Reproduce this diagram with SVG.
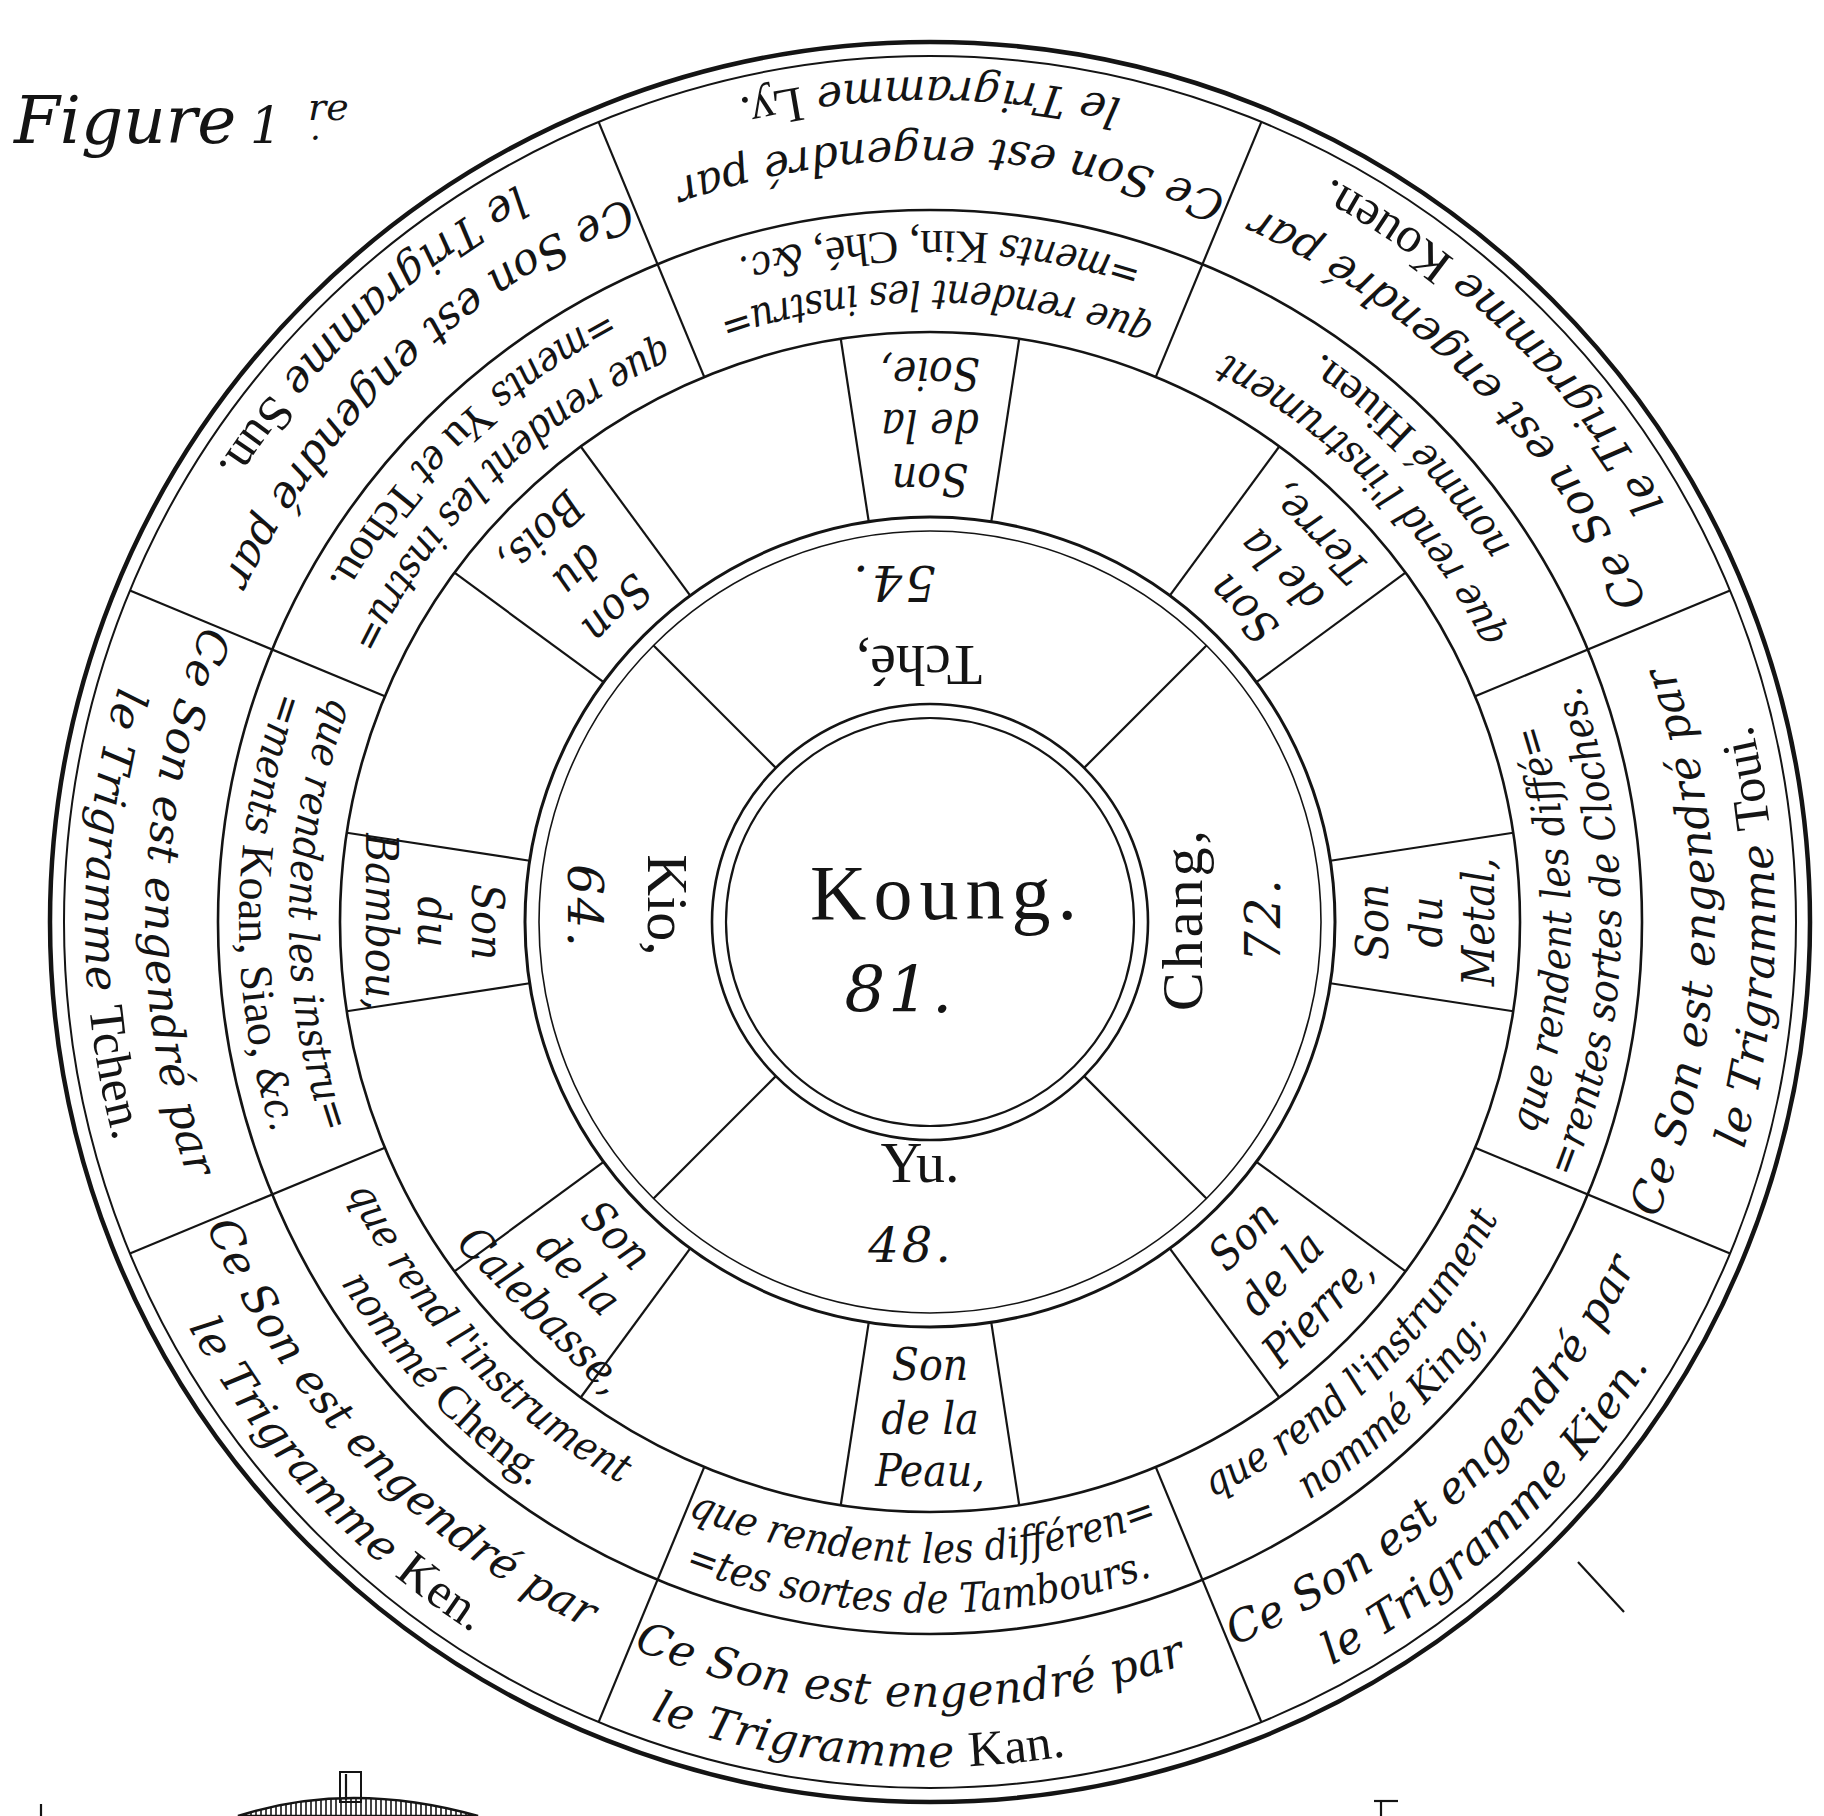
<svg xmlns="http://www.w3.org/2000/svg" width="1824" height="1816" viewBox="0 0 1824 1816">
<style>
.c{fill:none;stroke:#141414}
.d{stroke:#141414;stroke-width:2.2;fill:none}
text{fill:#141414;font-family:"Liberation Serif",serif}
.rm{font-family:"Liberation Serif",serif;font-style:normal}
.o{font-family:"DejaVu Serif",serif;font-style:italic;font-size:44px;letter-spacing:0.5px;text-anchor:middle}
.o .rm{font-size:50px}
.k{font-family:"DejaVu Serif Condensed","DejaVu Serif",serif;font-stretch:semi-condensed;font-style:italic;font-size:41px;text-anchor:middle}
.k .rm{font-size:46px}
.s{font-family:"DejaVu Serif Condensed","DejaVu Serif",serif;font-stretch:semi-condensed;font-style:italic;font-size:44px;text-anchor:middle}
.n{font-size:58px;text-anchor:middle}
.m{font-family:"DejaVu Serif",serif;font-style:italic;font-size:48px;letter-spacing:3px;text-anchor:middle}
.t{font-family:"DejaVu Serif",serif;font-style:italic}
</style>
<defs>
<path id="o1" d="M425.4,1523.3 A785,785 0 0 0 1434.6,1523.3"/>
<path id="o2" d="M386.8,1569.3 A845,845 0 0 0 1473.2,1569.3"/>
<path id="k1" d="M518,1413 A641,641 0 0 0 1342,1413"/>
<path id="k2" d="M485.8,1451.3 A691,691 0 0 0 1374.2,1451.3"/>
<pattern id="hatch" width="5" height="10" patternUnits="userSpaceOnUse"><line x1="1" y1="0" x2="1" y2="10" stroke="#141414" stroke-width="1.6"/></pattern>
</defs>
<rect width="1824" height="1816" fill="#fff"/>

<g id="title">
<text class="t" font-size="66" x="14" y="143">Figure <tspan x="250" font-size="50">1</tspan><tspan x="310" y="140" font-size="34">.</tspan><tspan x="308" y="120" font-size="38">re</tspan></text>
</g>

<g id="rings">
<circle class="c" cx="930" cy="922" r="880" stroke-width="4.5"/>
<circle class="c" cx="930" cy="922" r="866" stroke-width="2"/>
<circle class="c" cx="930" cy="922" r="712" stroke-width="2.6"/>
<circle class="c" cx="930" cy="922" r="590" stroke-width="2.6"/>
<circle class="c" cx="930" cy="922" r="405" stroke-width="3"/>
<circle class="c" cx="930" cy="922" r="391" stroke-width="1.6"/>
<circle class="c" cx="930" cy="922" r="218" stroke-width="2.6"/>
<circle class="c" cx="930" cy="922" r="204" stroke-width="2.2"/>
</g>

<g id="connectors">
<g id="outer-dividers">
<line class="d" x1="930" y1="332" x2="930" y2="56" transform="rotate(22.5 930 922)"/>
<line class="d" x1="930" y1="332" x2="930" y2="56" transform="rotate(67.5 930 922)"/>
<line class="d" x1="930" y1="332" x2="930" y2="56" transform="rotate(112.5 930 922)"/>
<line class="d" x1="930" y1="332" x2="930" y2="56" transform="rotate(157.5 930 922)"/>
<line class="d" x1="930" y1="332" x2="930" y2="56" transform="rotate(202.5 930 922)"/>
<line class="d" x1="930" y1="332" x2="930" y2="56" transform="rotate(247.5 930 922)"/>
<line class="d" x1="930" y1="332" x2="930" y2="56" transform="rotate(292.5 930 922)"/>
<line class="d" x1="930" y1="332" x2="930" y2="56" transform="rotate(337.5 930 922)"/>
</g>
<g id="son-dividers">
<line class="d" x1="930" y1="517" x2="930" y2="332" transform="rotate(8.7 930 922)"/>
<line class="d" x1="930" y1="517" x2="930" y2="332" transform="rotate(-8.7 930 922)"/>
<line class="d" x1="930" y1="517" x2="930" y2="332" transform="rotate(36.3 930 922)"/>
<line class="d" x1="930" y1="517" x2="930" y2="332" transform="rotate(53.7 930 922)"/>
<line class="d" x1="930" y1="517" x2="930" y2="332" transform="rotate(81.3 930 922)"/>
<line class="d" x1="930" y1="517" x2="930" y2="332" transform="rotate(98.7 930 922)"/>
<line class="d" x1="930" y1="517" x2="930" y2="332" transform="rotate(126.3 930 922)"/>
<line class="d" x1="930" y1="517" x2="930" y2="332" transform="rotate(143.7 930 922)"/>
<line class="d" x1="930" y1="517" x2="930" y2="332" transform="rotate(171.3 930 922)"/>
<line class="d" x1="930" y1="517" x2="930" y2="332" transform="rotate(188.7 930 922)"/>
<line class="d" x1="930" y1="517" x2="930" y2="332" transform="rotate(216.3 930 922)"/>
<line class="d" x1="930" y1="517" x2="930" y2="332" transform="rotate(233.7 930 922)"/>
<line class="d" x1="930" y1="517" x2="930" y2="332" transform="rotate(261.3 930 922)"/>
<line class="d" x1="930" y1="517" x2="930" y2="332" transform="rotate(278.7 930 922)"/>
<line class="d" x1="930" y1="517" x2="930" y2="332" transform="rotate(306.3 930 922)"/>
<line class="d" x1="930" y1="517" x2="930" y2="332" transform="rotate(323.7 930 922)"/>
</g>
<g id="note-dividers">
<line class="d" x1="930" y1="704" x2="930" y2="531" transform="rotate(45 930 922)"/>
<line class="d" x1="930" y1="704" x2="930" y2="531" transform="rotate(135 930 922)"/>
<line class="d" x1="930" y1="704" x2="930" y2="531" transform="rotate(225 930 922)"/>
<line class="d" x1="930" y1="704" x2="930" y2="531" transform="rotate(315 930 922)"/>
</g>
</g>

<g id="outer-kan" transform="rotate(0 930 922)">
<text class="o"><textPath href="#o1" startOffset="527">Ce Son est engendré par</textPath></text>
<text class="o"><textPath href="#o2" startOffset="516">le Trigramme <tspan class="rm">Kan.</tspan></textPath></text>
</g>
<g id="outer-ken" transform="rotate(45 930 922)">
<text class="o"><textPath href="#o1" startOffset="527">Ce Son est engendré par</textPath></text>
<text class="o"><textPath href="#o2" startOffset="560">le Trigramme <tspan class="rm">Ken.</tspan></textPath></text>
</g>
<g id="outer-tchen" transform="rotate(90 930 922)">
<text class="o"><textPath href="#o1" startOffset="527">Ce Son est engendré par</textPath></text>
<text class="o"><textPath href="#o2" startOffset="582">le Trigramme <tspan class="rm">Tchen.</tspan></textPath></text>
</g>
<g id="outer-sun" transform="rotate(135 930 922)">
<text class="o"><textPath href="#o1" startOffset="527">Ce Son est engendré par</textPath></text>
<text class="o"><textPath href="#o2" startOffset="566">le Trigramme <tspan class="rm">Sun.</tspan></textPath></text>
</g>
<g id="outer-ly" transform="rotate(180 930 922)">
<text class="o"><textPath href="#o1" startOffset="527">Ce Son est engendré par</textPath></text>
<text class="o"><textPath href="#o2" startOffset="590">le Trigramme <tspan class="rm">Ly.</tspan></textPath></text>
</g>
<g id="outer-kouen" transform="rotate(225 930 922)">
<text class="o"><textPath href="#o1" startOffset="545">Ce Son est engendré par</textPath></text>
<text class="o"><textPath href="#o2" startOffset="600">le Trigramme <tspan class="rm">Kouen.</tspan></textPath></text>
</g>
<g id="outer-toui" transform="rotate(270 930 922)">
<text class="o"><textPath href="#o1" startOffset="527">Ce Son est engendré par</textPath></text>
<text class="o"><textPath href="#o2" startOffset="575">le Trigramme <tspan class="rm">Toui.</tspan></textPath></text>
</g>
<g id="outer-kien" transform="rotate(315 930 922)">
<text class="o"><textPath href="#o1" startOffset="527">Ce Son est engendré par</textPath></text>
<text class="o"><textPath href="#o2" startOffset="566">le Trigramme Kien.</textPath></text>
</g>

<g id="inst-tambours" transform="rotate(0 930 922)">
<text class="k"><textPath href="#k1" startOffset="440">que rendent les différen=</textPath></text>
<text class="k"><textPath href="#k2" startOffset="470">=tes sortes de Tambours.</textPath></text>
</g>
<g id="inst-cheng" transform="rotate(45 930 922)">
<text class="k"><textPath href="#k1" startOffset="425">que rend l'instrument</textPath></text>
<text class="k"><textPath href="#k2" startOffset="460">nommé <tspan class="rm">Cheng.</tspan></textPath></text>
</g>
<g id="inst-koan" transform="rotate(90 930 922)">
<text class="k"><textPath href="#k1" startOffset="440">que rendent les instru=</textPath></text>
<text class="k"><textPath href="#k2" startOffset="472">=ments <tspan class="rm">Koan, Siao,</tspan> &amp;c.</textPath></text>
</g>
<g id="inst-yu" transform="rotate(135 930 922)">
<text class="k"><textPath href="#k1" startOffset="440">que rendent les instru=</textPath></text>
<text class="k"><textPath href="#k2" startOffset="472">=ments <tspan class="rm">Yu</tspan> et <tspan class="rm">Tchou.</tspan></textPath></text>
</g>
<g id="inst-kin" transform="rotate(180 930 922)">
<text class="k"><textPath href="#k1" startOffset="440">que rendent les instru=</textPath></text>
<text class="k"><textPath href="#k2" startOffset="472">=ments <tspan class="rm">Kin, Ché,</tspan> &amp;c.</textPath></text>
</g>
<g id="inst-hiuen" transform="rotate(225 930 922)">
<text class="k"><textPath href="#k1" startOffset="440">que rend l'instrument</textPath></text>
<text class="k"><textPath href="#k2" startOffset="472">nommé <tspan class="rm">Hiuen.</tspan></textPath></text>
</g>
<g id="inst-cloches" transform="rotate(270 930 922)">
<text class="k"><textPath href="#k1" startOffset="440">que rendent les diffé=</textPath></text>
<text class="k"><textPath href="#k2" startOffset="472">=rentes sortes de Cloches.</textPath></text>
</g>
<g id="inst-king" transform="rotate(315 930 922)">
<text class="k"><textPath href="#k1" startOffset="440">que rend l'instrument</textPath></text>
<text class="k"><textPath href="#k2" startOffset="465">nommé King;</textPath></text>
</g>

<g id="son-peau" transform="rotate(0 930 922)">
<text class="s" x="930" y="1380">Son</text><text class="s" x="930" y="1434">de la</text><text class="s" x="930" y="1486">Peau,</text>
</g>
<g id="son-calebasse" transform="rotate(45 930 922)">
<text class="s" x="930" y="1380">Son</text><text class="s" x="930" y="1434">de la</text><text class="s" x="930" y="1486" font-size="36">Calebasse,</text>
</g>
<g id="son-bambou" transform="rotate(90 930 922)">
<text class="s" x="930" y="1380">Son</text><text class="s" x="930" y="1434">du</text><text class="s" x="930" y="1486" font-size="40">Bambou,</text>
</g>
<g id="son-bois" transform="rotate(135 930 922)">
<text class="s" x="930" y="1380">Son</text><text class="s" x="930" y="1434">du</text><text class="s" x="930" y="1486">Bois,</text>
</g>
<g id="son-soie" transform="rotate(180 930 922)">
<text class="s" x="930" y="1380">Son</text><text class="s" x="930" y="1434">de la</text><text class="s" x="930" y="1486">Soie,</text>
</g>
<g id="son-terre" transform="rotate(225 930 922)">
<text class="s" x="930" y="1380">Son</text><text class="s" x="930" y="1434">de la</text><text class="s" x="930" y="1486">Terre,</text>
</g>
<g id="son-metal" transform="rotate(270 930 922)">
<text class="s" x="930" y="1380">Son</text><text class="s" x="930" y="1434">du</text><text class="s" x="930" y="1486">Metal,</text>
</g>
<g id="son-pierre" transform="rotate(315 930 922)">
<text class="s" x="930" y="1380">Son</text><text class="s" x="930" y="1434">de la</text><text class="s" x="930" y="1486">Pierre,</text>
</g>

<g id="note-yu" transform="rotate(0 930 922)">
<text class="n" x="920" y="1182">Yu.</text><text class="m" x="911" y="1262">48.</text>
</g>
<g id="note-kio" transform="rotate(90 930 922)">
<text class="n" x="913" y="1204">Kio,</text><text class="m" x="915" y="1284">64.</text>
</g>
<g id="note-tche" transform="rotate(180 930 922)">
<text class="n" x="941" y="1198">Tché,</text><text class="m" x="967" y="1278">54.</text>
</g>
<g id="note-chang" transform="rotate(270 930 922)">
<text class="n" x="933" y="1194" font-size="64" letter-spacing="3">Chang,</text><text class="m" x="933" y="1272">72.</text>
</g>

<g id="center-koung">
<text x="947" y="919" font-size="78" letter-spacing="7" text-anchor="middle">Koung.</text>
<text class="t" x="900" y="1012" font-size="64" letter-spacing="3" text-anchor="middle">81.</text>
</g>

<g id="margin-marks">
<line class="d" x1="1578" y1="1562" x2="1624" y2="1612"/>
<line class="d" x1="41" y1="1804" x2="41" y2="1816"/>
<rect x="340" y="1772" width="21" height="30" fill="#fff" stroke="#141414" stroke-width="2"/>
<line class="d" x1="346" y1="1774" x2="346" y2="1800" stroke-width="1.5"/>
<path d="M238,1816 Q350,1780 478,1816 Z" fill="url(#hatch)" stroke="#141414" stroke-width="2.5"/>
<line class="d" x1="1374" y1="1801" x2="1398" y2="1801"/>
<line class="d" x1="1381" y1="1801" x2="1381" y2="1816"/>
</g>
</svg>
